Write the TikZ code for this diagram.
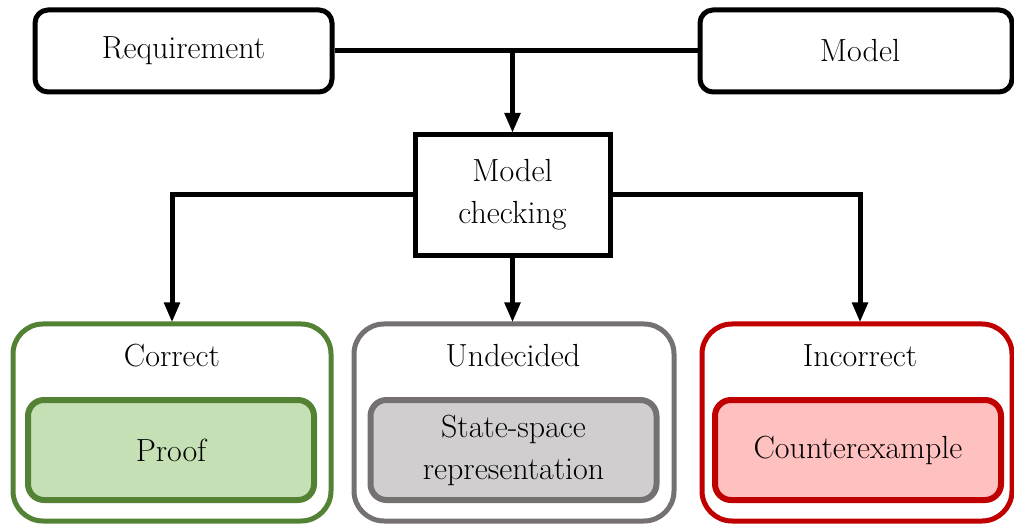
\documentclass[tikz,border=0pt]{standalone}
\usepackage{fontspec}
\usetikzlibrary{arrows.meta}
\definecolor{grnB}{HTML}{548235}
\definecolor{grnF}{HTML}{C5E0B4}
\definecolor{gryB}{HTML}{767171}
\definecolor{gryF}{HTML}{D0CECE}
\definecolor{redB}{HTML}{C00000}
\definecolor{redF}{HTML}{FFC0C0}
\tikzset{
  txt/.style={font=\fontsize{32}{42}\selectfont, align=center},
  topbox/.style={txt, draw=black, line width=5pt, rounded corners=13pt, rectangle, inner sep=0pt, minimum width=#1, minimum height=82pt},
  mcbox/.style={txt, draw=black, line width=5pt, rectangle, inner sep=0pt, minimum width=195pt, minimum height=121pt},
  outer/.style={draw=#1, line width=5pt, rounded corners=30pt, rectangle, inner sep=0pt, minimum height=197pt},
  inner/.style={txt, line width=6pt, rounded corners=16pt, rectangle, inner sep=0pt, minimum width=286pt, minimum height=100pt},
  conn/.style={draw=black, line width=5pt},
  arr/.style={conn, -{Triangle[length=20pt,width=15pt]}, shorten >=-1pt},
}
\begin{document}
\begin{tikzpicture}[x=1pt,y=-1pt]
\useasboundingbox (0,0) rectangle (1014,526);
\node[topbox=297pt] (req) at (183.5,51) {Requirement};
\node[topbox=312pt] (mod) at (856,51) {\hspace*{8pt}Model};
\node[mcbox] (mc) at (512.5,195) {Model\\checking};
% outer result boxes
\node[outer=grnB, minimum width=318pt] (cor) at (172,422.5) {};
\node[outer=gryB, minimum width=320pt] (und) at (514,422.5) {};
\node[outer=redB, minimum width=310pt] (inc) at (857,422.5) {};
\node[txt] (lcor) at (172,356) {Correct};
\node[txt] (lund) at (513,356) {Undecided};
\node[txt] (linc) at (860,356) {Incorrect};
\node[inner, draw=grnB, fill=grnF] (prf) at (171,450) {Proof};
\node[inner, draw=gryB, fill=gryF] (ssr) at (513.5,450) {State-space\\representation};
\node[inner, draw=redB, fill=redF] (cex) at (858,450) {Counterexample};
% connectors
\draw[conn] (req.east) -- (mod.west);
\coordinate (j) at (mc.north |- req.east);
\draw[arr] (j) -- (mc.north);
\draw[arr] (mc.west) -| (cor.north);
\draw[arr] (mc.south) -- (mc.south |- und.north);
\draw[arr] (mc.east) -| ([xshift=3pt]inc.north);
\end{tikzpicture}
\end{document}
